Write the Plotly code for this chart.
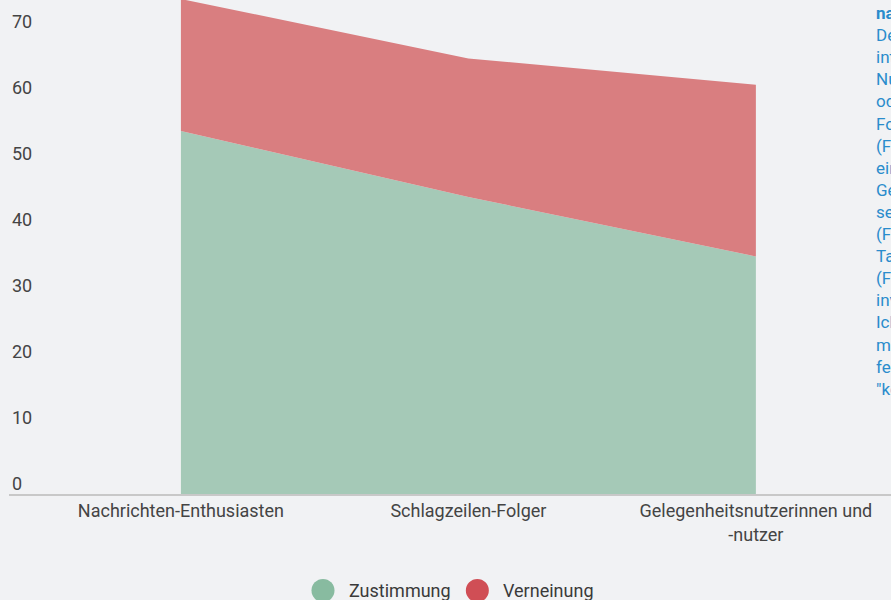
import plotly.graph_objects as go

# Nutzertypen und Antwortanteile (in Prozent)
categories = ["Nachrichten-Enthusiasten", "Schlagzeilen-Folger", "Gelegenheitsnutzerinnen und -nutzer"]
tick_labels = ["Nachrichten-Enthusiasten", "Schlagzeilen-Folger", "Gelegenheitsnutzerinnen und<br>-nutzer"]
series_names = ["Zustimmung", "Verneinung"]
zustimmung = [55, 45, 36]
verneinung = [20, 21, 26]
y_ticks = [0, 10, 20, 30, 40, 50, 60, 70]

note_lines = [
    "<b>nach Nutzungstyp</b>",
    "Der Nachrichtenkonsum wurde",
    "internetbasiert erhoben.",
    "Nutzerinnen und Nutzer, die täglich",
    "oder mehrmals täglich",
    "Formate nutzen",
    "(Frage 1), gelten als",
    "ein Nachrichten-Enthusiast.",
    "Gelegenheitsnutzende",
    "sehen seltener Nachrichten",
    "(Frage 2) und an weniger",
    "Tagen pro Woche",
    "(Frage 3). Die Aussage",
    "involviert die Zustimmung:",
    "Ich fühle mich gut",
    "mediengebildet. Es",
    "fehlen Antworten mit",
    "\"keine Angabe\".",
]

BG = "#f1f2f4"
area_colors = ["#a5c9b7", "#d97e80"]
legend_colors = ["#88bba0", "#d04e55"]
FONT = "Roboto, Arial, sans-serif"

fig = go.Figure()
for name, vals, col in zip(series_names, [zustimmung, verneinung], area_colors):
    fig.add_trace(go.Scatter(
        x=categories, y=vals, name=name, stackgroup="one", mode="none",
        fillcolor=col, hoverinfo="skip", showlegend=False,
    ))

# Legende unterhalb des Diagramms: Kreise mit Beschriftung
legend_x = [0.356, 0.531]
for i, (name, col) in enumerate(zip(series_names, legend_colors)):
    cx = legend_x[i]
    fig.add_shape(type="circle", xref="paper", yref="paper",
                  x0=cx - 11.5 / 882, x1=cx + 11.5 / 882,
                  y0=(494 - 602) / 494, y1=(494 - 579) / 494,
                  fillcolor=col, line_width=0)
    fig.add_annotation(text=name, xref="paper", yref="paper",
                       x=cx + 24 / 882, y=(494 - 590) / 494,
                       xanchor="left", yanchor="middle", showarrow=False,
                       font=dict(family=FONT, size=18, color="#3a3a3a"))

# Erläuterung am rechten Rand
fig.add_annotation(text="<br>".join(note_lines), xref="paper", yref="paper",
                   x=(874 - 9) / 882, y=1 - 1 / 494, xanchor="left", yanchor="top",
                   align="left", showarrow=False,
                   font=dict(family=FONT, size=17, color="#2a8ccc"))

fig.update_layout(
    width=891, height=600,
    margin=dict(l=9, r=0, t=0, b=106),
    paper_bgcolor=BG, plot_bgcolor=BG,
    font=dict(family=FONT, size=18, color="#444444"),
    showlegend=False,
    xaxis=dict(
        type="category", range=[-0.598, 2.47],
        tickvals=categories, ticktext=tick_labels,
        showline=True, linecolor="#c8c8c8", linewidth=1.5,
        showgrid=False, zeroline=False, ticks="",
        tickfont=dict(size=18, color="#444444"),
    ),
    yaxis=dict(
        range=[0, 74.85], tickvals=y_ticks,
        showgrid=False, zeroline=False, showline=False, ticks="",
        ticklabelposition="inside", ticklabelshift=-10,
        ticklabeloverflow="allow",
        tickfont=dict(size=18, color="#444444"),
    ),
)

fig.write_html("out.html")
